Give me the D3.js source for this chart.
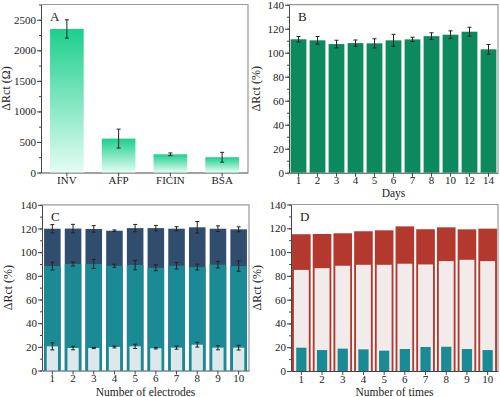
<!DOCTYPE html>
<html>
<head>
<meta charset="utf-8">
<script src="https://cdn.jsdelivr.net/npm/d3@7"></script>
<style>
  body { margin: 0; background: #fff; }
  svg { display: block; font-family: "Liberation Serif", "Times New Roman", serif; }
  .axis text { font-family: "Liberation Serif", "Times New Roman", serif; font-size: 11px; fill: #222; }
  .axis path, .axis line { stroke: #444; }
</style>
</head>
<body>
<svg width="500" height="397"></svg>
<script>
// panel A - selectivity
var catsA = ["INV", "AFP", "FICIN", "BSA"];
var valsA = [2350, 555, 298, 250];
var errA = [150, 155, 22, 80];

// panel B - stability over days
var daysB = ["1", "2", "3", "4", "5", "6", "7", "8", "10", "12", "14"];
var valsB = [111.2, 110.3, 107.2, 108, 107.8, 110.3, 111.1, 113.8, 115, 117.5, 102.8];
var errB = [2.3, 3.2, 3.2, 2.6, 3.8, 5, 1.8, 2.8, 3.2, 3.7, 4];

// panel C - reproducibility (electrodes)
var electrodes = ["1", "2", "3", "4", "5", "6", "7", "8", "9", "10"];
var topC = [119.8, 119.9, 119.6, 118.1, 120.3, 120.3, 119.8, 121, 119.8, 119.3];
var topCErr = [3.5, 3.6, 2.8, 0.7, 3.1, 2.3, 1.7, 4.9, 2.4, 2.1];
var midC = [88.2, 90, 90, 88.5, 89.1, 86.8, 88.5, 87.4, 89.4, 88.2];
var midCErr = [3.3, 1.7, 3.8, 1.3, 4, 2.5, 2.8, 2.5, 2.8, 4.4];
var lowC = [20.4, 19, 19, 19.9, 20.4, 18.8, 19.3, 21.8, 19.3, 19.3];
var lowCErr = [3, 1.5, 0.5, 0.8, 1.8, 0.6, 1.3, 2, 1.8, 2];

// panel D - regeneration (times)
var timesD = ["1", "2", "3", "4", "5", "6", "7", "8", "9", "10"];
var topD = [115, 115.2, 115.8, 117.5, 118.3, 121.6, 119.2, 120.8, 119.1, 119.7];
var midD = [85, 86.5, 88.5, 89.3, 89.3, 90.2, 89.6, 92.4, 93.5, 92.4];
var lowD = [19.6, 17.6, 18.8, 18.2, 17.1, 18.5, 20.2, 20.4, 18.5, 17.6];

var pctTicks = [0, 20, 40, 60, 80, 100, 120, 140];

var svg = d3.select("svg");

var defs = svg.append("defs");
var grad = defs.append("linearGradient")
  .attr("id", "gradA").attr("x1", 0).attr("y1", 0).attr("x2", 0).attr("y2", 1);
grad.append("stop").attr("offset", "0%").attr("stop-color", "#1ccf8c");
grad.append("stop").attr("offset", "100%").attr("stop-color", "#e4fdf4");

function panel(opt) {
  var g = svg.append("g");
  var x = d3.scaleBand().domain(opt.cats).range([opt.x0, opt.x1])
    .paddingInner(opt.pad).paddingOuter(opt.pad / 2);
  var y = d3.scaleLinear().domain(opt.ydom).range([opt.y0, opt.y1]);

  // frame (top/right)
  g.append("path")
    .attr("d", "M" + opt.x0 + "," + opt.y1 + "H" + opt.x1 + "V" + opt.y0)
    .attr("fill", "none").attr("stroke", "#999").attr("stroke-width", 1.2);

  // minor y ticks
  g.append("g").attr("class", "axis")
    .attr("transform", "translate(" + opt.x0 + ",0)")
    .call(d3.axisLeft(y).tickValues(opt.minor).tickSize(2).tickFormat(""))
    .select(".domain").remove();

  g.append("g").attr("class", "axis")
    .attr("transform", "translate(" + opt.x0 + ",0)")
    .call(d3.axisLeft(y).tickValues(opt.yticks).tickFormat(d3.format("d"))
      .tickSize(4).tickSizeOuter(0).tickPadding(1));

  g.append("g").attr("class", "axis")
    .attr("transform", "translate(0," + opt.y0 + ")")
    .call(d3.axisBottom(x).tickSize(4).tickSizeOuter(0).tickPadding(0));

  g.append("text")
    .attr("transform", "translate(" + opt.ylabX + "," + ((opt.y0 + opt.y1) / 2) + ") rotate(-90)")
    .attr("text-anchor", "middle").attr("font-size", 12).attr("fill", "#222")
    .text(opt.ylab);

  if (opt.xlab) {
    g.append("text")
      .attr("x", (opt.x0 + opt.x1) / 2).attr("y", opt.xlabY)
      .attr("text-anchor", "middle").attr("font-size", 11.5).attr("fill", "#222")
      .text(opt.xlab);
  }

  g.append("text")
    .attr("x", opt.x0 + 9).attr("y", opt.y1 + 16)
    .attr("font-size", 13).attr("fill", "#222")
    .text(opt.letter);

  return { g: g, x: x, y: y };
}

function bars(p, cats, vals, color, shrink) {
  var bw = p.x.bandwidth() * shrink;
  p.g.selectAll(null).data(vals).enter().append("rect")
    .attr("x", function(d, i) { return p.x(cats[i]) + (p.x.bandwidth() - bw) / 2; })
    .attr("y", function(d) { return p.y(d); })
    .attr("width", bw)
    .attr("height", function(d) { return p.y(0) - p.y(d); })
    .attr("fill", color);
}

function errs(p, cats, vals, err) {
  var eg = p.g.append("g").attr("stroke", "#222").attr("stroke-width", 1);
  vals.forEach(function(v, i) {
    var cx = p.x(cats[i]) + p.x.bandwidth() / 2;
    var ya = p.y(v + err[i]), yb = p.y(v - err[i]);
    eg.append("line").attr("x1", cx).attr("x2", cx).attr("y1", ya).attr("y2", yb);
    eg.append("line").attr("x1", cx - 2).attr("x2", cx + 2).attr("y1", ya).attr("y2", ya);
    eg.append("line").attr("x1", cx - 2).attr("x2", cx + 2).attr("y1", yb).attr("y2", yb);
  });
}

// A
var pA = panel({
  cats: catsA, x0: 41, x1: 248, y0: 172.5, y1: 4.5, pad: 0.35,
  ydom: [0, 2750], yticks: [0, 500, 1000, 1500, 2000, 2500], minor: d3.range(0, 2751, 250),
  ylab: "\u0394Rct (\u03a9)", ylabX: 10, letter: "A"
});
bars(pA, catsA, valsA, "url(#gradA)", 1);
errs(pA, catsA, valsA, errA);

// B
var pB = panel({
  cats: daysB, x0: 289, x1: 498, y0: 172.7, y1: 4.7, pad: 0.17,
  ydom: [0, 140], yticks: pctTicks, minor: d3.range(0, 141, 10),
  ylab: "\u0394Rct (%)", ylabX: 260, xlab: "Days", xlabY: 197, letter: "B"
});
bars(pB, daysB, valsB, "#0c8a5d", 1);
errs(pB, daysB, valsB, errB);

// C
var pC = panel({
  cats: electrodes, x0: 42, x1: 249, y0: 370.5, y1: 204.8, pad: 0.2,
  ydom: [0, 140], yticks: pctTicks, minor: d3.range(0, 141, 10),
  ylab: "\u0394Rct (%)", ylabX: 12, xlab: "Number of electrodes", xlabY: 396, letter: "C"
});
bars(pC, electrodes, topC, "#314d6d", 1);
bars(pC, electrodes, midC, "#1a8a95", 1);
bars(pC, electrodes, lowC, "#dce8ec", 0.68);
errs(pC, electrodes, topC, topCErr);
errs(pC, electrodes, midC, midCErr);
errs(pC, electrodes, lowC, lowCErr);

// D
var pD = panel({
  cats: timesD, x0: 291, x1: 498, y0: 371, y1: 204.5, pad: 0.1,
  ydom: [0, 140], yticks: pctTicks, minor: d3.range(0, 141, 10),
  ylab: "\u0394Rct (%)", ylabX: 261, xlab: "Number of times", xlabY: 396, letter: "D"
});
bars(pD, timesD, topD, "#b3382e", 1);
bars(pD, timesD, midD, "#f1ece9", 0.8);
bars(pD, timesD, lowD, "#1a8a95", 0.55);
</script>
</body>
</html>
